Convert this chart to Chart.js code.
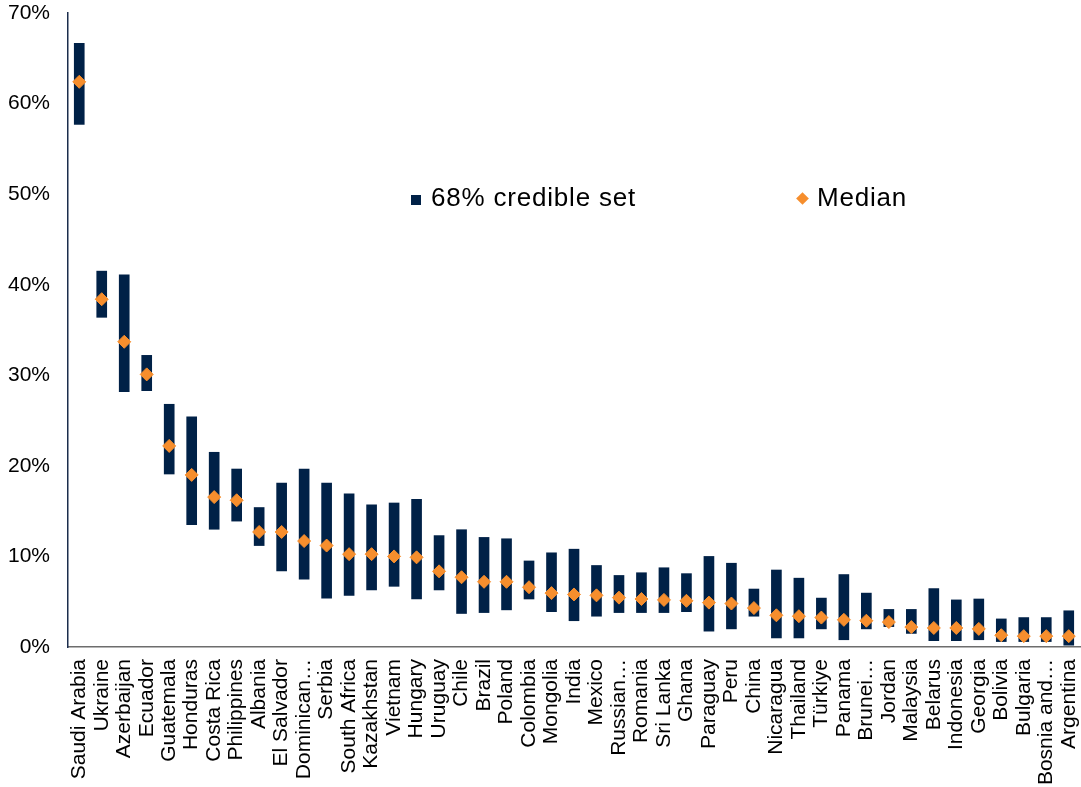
<!DOCTYPE html>
<html lang="en">
<head>
    <meta charset="UTF-8">
    <title>68% credible set and median</title>
    <script src="https://cdn.jsdelivr.net/npm/chart.js"></script>
    <style>
        html, body {
            margin: 0;
            padding: 0;
            overflow: hidden;
            background-color: #fff;
            font-family: "Liberation Sans", Arial, sans-serif;
        }
        .wrap {
            position: relative;
            width: 1081px;
            height: 787px;
        }
        canvas {
            display: block;
        }
        .legend-item {
            position: absolute;
            font-size: 26px;
            line-height: 30px;
            letter-spacing: 0.8px;
            color: #000;
            white-space: nowrap;
        }
        .box {
            position: absolute;
            width: 10px;
            height: 10px;
            background-color: #002147;
        }
        .diamond {
            position: absolute;
            width: 9px;
            height: 9px;
            background-color: #F68E2D;
            transform: rotate(45deg);
        }
    </style>
</head>
<body>
    <div class="wrap">
        <canvas id="chart" width="1081" height="787"></canvas>
        <div class="box" style="left:411px; top:195px;"></div>
        <div class="legend-item" style="left:431px; top:182px;">68% credible set</div>
        <div class="diamond" style="left:798px; top:194px;"></div>
        <div class="legend-item" style="left:817px; top:182px;">Median</div>
    </div>

    <script>
        const countries = [
            'Saudi Arabia', 'Ukraine', 'Azerbaijan', 'Ecuador', 'Guatemala', 'Honduras',
            'Costa Rica', 'Philippines', 'Albania', 'El Salvador', 'Dominican…', 'Serbia',
            'South Africa', 'Kazakhstan', 'Vietnam', 'Hungary', 'Uruguay', 'Chile',
            'Brazil', 'Poland', 'Colombia', 'Mongolia', 'India', 'Mexico', 'Russian…',
            'Romania', 'Sri Lanka', 'Ghana', 'Paraguay', 'Peru', 'China', 'Nicaragua',
            'Thailand', 'Türkiye', 'Panama', 'Brunei…', 'Jordan', 'Malaysia', 'Belarus',
            'Indonesia', 'Georgia', 'Bolivia', 'Bulgaria', 'Bosnia and…', 'Argentina'
        ];

        // 68% credible set, lower and upper bound (%)
        const lows = [
            57.7, 36.4, 28.2, 28.3, 19.1, 13.5, 13.0, 13.9, 11.2, 8.4, 7.5, 5.4,
            5.7, 6.3, 6.7, 5.3, 6.3, 3.7, 3.8, 4.1, 5.3, 3.9, 2.9, 3.4, 3.8,
            3.8, 3.8, 3.9, 1.75, 2.0, 3.4, 1.0, 1.0, 2.0, 0.8, 2.0, 2.25, 1.5, 0.7,
            0.7, 0.8, 0.6, 0.6, 0.6, 0.2
        ];
        const highs = [
            66.65, 41.5, 41.1, 32.2, 26.8, 25.4, 21.5, 19.65, 15.4, 18.1, 19.65, 18.1,
            16.9, 15.7, 15.9, 16.3, 12.3, 12.95, 12.1, 11.95, 9.5, 10.4, 10.8, 9.0, 7.9,
            8.2, 8.75, 8.1, 10.0, 9.25, 6.4, 8.5, 7.6, 5.4, 8.0, 5.95, 4.15, 4.15, 6.45,
            5.2, 5.3, 3.1, 3.25, 3.25, 4.0
        ];
        const medians = [
            62.4, 38.4, 33.7, 30.1, 22.2, 19.0, 16.55, 16.2, 12.7, 12.7, 11.7, 11.2,
            10.25, 10.25, 10.0, 9.9, 8.35, 7.7, 7.2, 7.2, 6.6, 5.95, 5.8, 5.7, 5.45,
            5.3, 5.2, 5.1, 4.9, 4.8, 4.3, 3.5, 3.4, 3.25, 3.0, 2.9, 2.75, 2.2, 2.1,
            2.1, 2.0, 1.3, 1.2, 1.2, 1.2
        ];

        const yTicks = [0, 10, 20, 30, 40, 50, 60, 70];

        const navy = '#002147';
        const orange = '#F68E2D';

        Chart.defaults.font.family = '"Liberation Sans", Arial, sans-serif';
        Chart.defaults.color = '#000';

        const ctx = document.getElementById('chart').getContext('2d');
        const chart = new Chart(ctx, {
            type: 'bar',
            data: {
                labels: countries,
                datasets: [
                    {
                        type: 'line',
                        label: 'Median',
                        data: medians,
                        showLine: false,
                        pointStyle: 'rectRot',
                        pointRadius: 6.5,
                        pointBackgroundColor: orange,
                        pointBorderColor: orange,
                        pointBorderWidth: 1,
                        clip: false,
                        order: 0
                    },
                    {
                        label: '68% credible set',
                        data: lows.map((l, i) => [l, highs[i]]),
                        backgroundColor: navy,
                        borderWidth: 0,
                        barThickness: 10,
                        order: 1
                    }
                ]
            },
            options: {
                responsive: false,
                animation: false,
                layout: {
                    autoPadding: false,
                    padding: { left: 7, top: 13, right: 1, bottom: 3 }
                },
                scales: {
                    x: {
                        grid: { display: false, drawTicks: false },
                        border: { display: true, color: '#6d6d6d', width: 1.5 },
                        ticks: {
                            autoSkip: false,
                            minRotation: 90,
                            maxRotation: 90,
                            padding: 12,
                            font: { size: 21 }
                        },
                        afterFit: axis => {
                            axis.height = 137;
                            axis.paddingLeft = 0;
                            axis.paddingRight = 0;
                        }
                    },
                    y: {
                        min: 0,
                        max: 70,
                        afterBuildTicks: axis => {
                            axis.ticks = yTicks.map(v => ({ value: v }));
                        },
                        grid: { display: false, drawTicks: false },
                        border: { display: true, color: '#1b2d4d', width: 1.5 },
                        ticks: {
                            padding: 18,
                            font: { size: 21 },
                            callback: v => v + '%'
                        },
                        afterFit: axis => {
                            axis.width = 61;
                            axis.paddingTop = 0;
                            axis.paddingBottom = 0;
                        }
                    }
                },
                plugins: {
                    legend: { display: false },
                    tooltip: { enabled: false }
                }
            }
        });
    </script>
</body>
</html>
